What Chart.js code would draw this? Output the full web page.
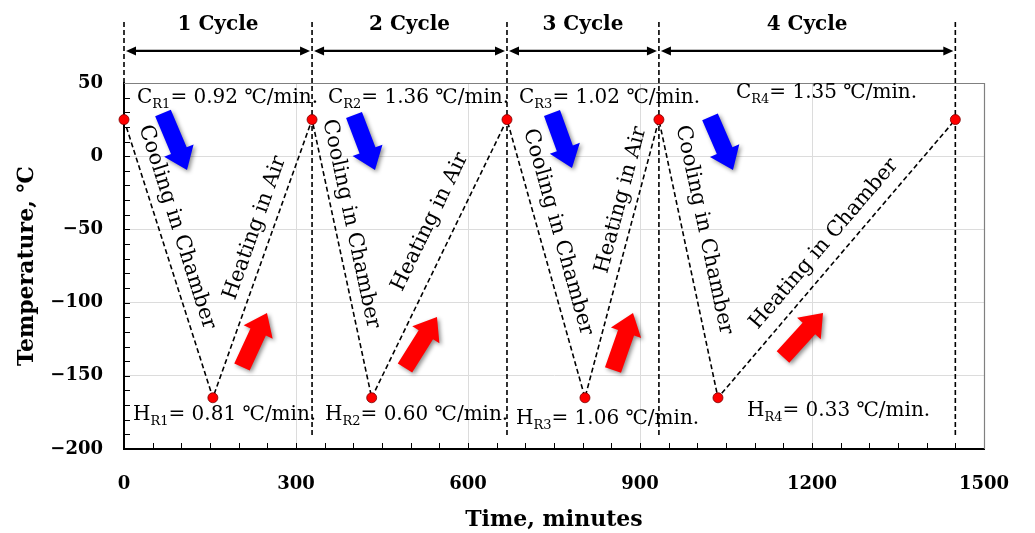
<!DOCTYPE html>
<html>
<head>
<meta charset="utf-8">
<script src="https://cdn.jsdelivr.net/npm/chart.js@4.4.1/dist/chart.umd.min.js"></script>
<style>
html,body{margin:0;padding:0;background:#fff;}
#c{display:block;}
</style>
</head>
<body>
<canvas id="c" width="1035" height="533"></canvas>
<script>
// ---- data ----
const timeMin = [0, 155, 328, 432, 668, 804, 933, 1036, 1450];
const tempC   = [25, -165, 25, -165, 25, -165, 25, -165, 25];
const xTicks  = [0, 300, 600, 900, 1200, 1500];
const yTicks  = [-200, -150, -100, -50, 0, 50];
const cycleBounds = [0, 328, 668, 933, 1450];
const cycleLabels = ['1 Cycle', '2 Cycle', '3 Cycle', '4 Cycle'];
const coolRates = ['0.92', '1.36', '1.02', '1.35'];
const heatRates = ['0.81', '0.60', '1.06', '0.33'];
const coolProcess = ['Cooling in Chamber', 'Cooling in Chamber', 'Cooling in Chamber', 'Cooling in Chamber'];
const heatProcess = ['Heating in Air', 'Heating in Air', 'Heating in Air', 'Heating in Chamber'];

// ---- annotation placement (data units) ----
const coolLabelPos = [[22.7, 41.8], [355.8, 41.8], [689.0, 41.8], [1067.4, 45.2]];
const heatLabelPos = [[15.7, -175.4], [350.6, -175.4], [683.7, -178.1], [1086.6, -172.0]];
const coolTextPos = [[92.4, -48.4], [395.9, -46.3], [757.0, -51.8], [1011.6, -50.4]];
const heatTextPos = [[228.5, -49.0], [533.7, -44.9], [866.9, -29.9], [1220.9, -60.0]];
const blueArrows = [[68.0, 29.5, 109.9, -9.4], [401.2, 28.1, 437.8, -9.4], [746.5, 29.5, 781.4, -8.1], [1022.1, 26.8, 1062.2, -9.4]];
const redArrows = [[205.8, -144.0, 249.4, -107.1], [490.1, -144.7, 545.9, -109.8], [852.9, -146.0, 887.8, -107.1], [1149.4, -137.2, 1219.2, -107.1]];
const boundTop = 91.7, boundBottom = -191.8, cycleLabelY = 89.6, cycleArrowY = 71.9;

const FAM = "'DejaVu Serif', 'Liberation Serif', serif";

function blockArrow(ctx, x1, y1, x2, y2, color) {
  const dx = x2 - x1, dy = y2 - y1;
  const L = Math.hypot(dx, dy);
  const ang = Math.atan2(dy, dx);
  const sw = 8.5, hw = 16, hl = 21;
  ctx.save();
  ctx.translate(x1, y1);
  ctx.rotate(ang);
  ctx.beginPath();
  ctx.moveTo(0, -sw);
  ctx.lineTo(L - hl, -sw);
  ctx.lineTo(L - hl, -hw);
  ctx.lineTo(L, 0);
  ctx.lineTo(L - hl, hw);
  ctx.lineTo(L - hl, sw);
  ctx.lineTo(0, sw);
  ctx.closePath();
  ctx.shadowColor = 'rgba(0,0,0,0.45)';
  ctx.shadowBlur = 4;
  ctx.shadowOffsetX = 2;
  ctx.shadowOffsetY = 2;
  ctx.fillStyle = color;
  ctx.fill();
  ctx.restore();
}

function rateLabel(ctx, x, yc, letter, sub, rest) {
  ctx.save();
  ctx.fillStyle = '#000';
  ctx.textBaseline = 'alphabetic';
  ctx.textAlign = 'left';
  const base = yc + 7.5;
  ctx.font = `20px ${FAM}`;
  ctx.fillText(letter, x, base);
  let cx = x + ctx.measureText(letter).width;
  ctx.font = `13px ${FAM}`;
  ctx.fillText(sub, cx, base + 5);
  cx += ctx.measureText(sub).width;
  ctx.font = `20px ${FAM}`;
  ctx.fillText(rest, cx, base);
  ctx.restore();
}

const decor = {
  id: 'decor',
  beforeDatasetsDraw(chart) {
    const {ctx, chartArea: a, scales: {x, y}} = chart;
    ctx.save();
    // minor inward ticks
    ctx.strokeStyle = '#000';
    ctx.lineWidth = 1;
    ctx.beginPath();
    for (let v = 50; v < 1500; v += 50) {
      const px = Math.round(x.getPixelForValue(v)) + 0.5;
      ctx.moveTo(px, a.bottom);
      ctx.lineTo(px, a.bottom - 6);
    }
    for (let v = -190; v < 50; v += 10) {
      const py = Math.round(y.getPixelForValue(v)) + 0.5;
      ctx.moveTo(a.left, py);
      ctx.lineTo(a.left + 6, py);
    }
    ctx.stroke();
    // top & right border
    ctx.strokeStyle = '#808080';
    ctx.lineWidth = 1.2;
    ctx.beginPath();
    ctx.moveTo(a.left, a.top + 0.5);
    ctx.lineTo(a.right + 0.5, a.top + 0.5);
    ctx.lineTo(a.right + 0.5, a.bottom);
    ctx.stroke();
    // cycle boundary dashed lines
    ctx.strokeStyle = '#000';
    ctx.lineWidth = 1.6;
    ctx.setLineDash([5, 3]);
    cycleBounds.forEach(b => {
      const px = x.getPixelForValue(b);
      ctx.beginPath();
      ctx.moveTo(px, y.getPixelForValue(boundTop));
      ctx.lineTo(px, y.getPixelForValue(boundBottom));
      ctx.stroke();
    });
    ctx.setLineDash([]);
    ctx.restore();
  },
  afterDatasetsDraw(chart) {
    const {ctx, scales: {x, y}} = chart;
    ctx.save();
    // cycle arrows and labels
    const ay = y.getPixelForValue(cycleArrowY);
    const ly = y.getPixelForValue(cycleLabelY);
    ctx.fillStyle = '#000';
    ctx.strokeStyle = '#000';
    for (let i = 0; i < cycleLabels.length; i++) {
      const x1 = x.getPixelForValue(cycleBounds[i]) + 2;
      const x2 = x.getPixelForValue(cycleBounds[i + 1]) - 2;
      ctx.lineWidth = 2.2;
      ctx.beginPath();
      ctx.moveTo(x1 + 6, ay);
      ctx.lineTo(x2 - 6, ay);
      ctx.stroke();
      ctx.beginPath();
      ctx.moveTo(x1, ay); ctx.lineTo(x1 + 10, ay - 4.5); ctx.lineTo(x1 + 10, ay + 4.5); ctx.closePath();
      ctx.fill();
      ctx.beginPath();
      ctx.moveTo(x2, ay); ctx.lineTo(x2 - 10, ay - 4.5); ctx.lineTo(x2 - 10, ay + 4.5); ctx.closePath();
      ctx.fill();
      ctx.font = `bold 20px ${FAM}`;
      ctx.textAlign = 'center';
      ctx.textBaseline = 'middle';
      ctx.fillText(cycleLabels[i], (x1 + x2) / 2, ly);
    }
    // block arrows
    blueArrows.forEach(r => blockArrow(ctx, x.getPixelForValue(r[0]), y.getPixelForValue(r[1]), x.getPixelForValue(r[2]), y.getPixelForValue(r[3]), '#0000ff'));
    redArrows.forEach(r => blockArrow(ctx, x.getPixelForValue(r[0]), y.getPixelForValue(r[1]), x.getPixelForValue(r[2]), y.getPixelForValue(r[3]), '#ff0000'));
    // rate labels
    for (let i = 0; i < 4; i++) {
      rateLabel(ctx, x.getPixelForValue(coolLabelPos[i][0]), y.getPixelForValue(coolLabelPos[i][1]), 'C', 'R' + (i + 1), '= ' + coolRates[i] + ' \u2103/min.');
      rateLabel(ctx, x.getPixelForValue(heatLabelPos[i][0]), y.getPixelForValue(heatLabelPos[i][1]), 'H', 'R' + (i + 1), '= ' + heatRates[i] + ' \u2103/min.');
    }
    // rotated process labels along segments
    const seg = (i) => {
      const p1 = [x.getPixelForValue(timeMin[i]), y.getPixelForValue(tempC[i])];
      const p2 = [x.getPixelForValue(timeMin[i + 1]), y.getPixelForValue(tempC[i + 1])];
      return [p1, p2];
    };
    ctx.font = `21px ${FAM}`;
    ctx.textAlign = 'center';
    ctx.textBaseline = 'middle';
    ctx.fillStyle = '#000';
    for (let c = 0; c < 4; c++) {
      let [p1, p2] = seg(2 * c);
      let ang = Math.atan2(p2[1] - p1[1], p2[0] - p1[0]);
      ctx.save();
      ctx.translate(x.getPixelForValue(coolTextPos[c][0]), y.getPixelForValue(coolTextPos[c][1]));
      ctx.rotate(ang);
      ctx.fillText(coolProcess[c], 0, 0);
      ctx.restore();
      [p1, p2] = seg(2 * c + 1);
      ang = Math.atan2(p2[1] - p1[1], p2[0] - p1[0]);
      ctx.save();
      ctx.translate(x.getPixelForValue(heatTextPos[c][0]), y.getPixelForValue(heatTextPos[c][1]));
      ctx.rotate(ang);
      ctx.fillText(heatProcess[c], 0, 0);
      ctx.restore();
    }
    ctx.restore();
  }
};

const tickFont = {family: FAM, size: 18, weight: 'bold'};
const titleFont = {family: FAM, size: 22, weight: 'bold'};

new Chart(document.getElementById('c'), {
  type: 'line',
  data: {
    datasets: [{
      data: timeMin.map((t, i) => ({x: t, y: tempC[i]})),
      borderColor: '#000',
      borderWidth: 1.6,
      borderDash: [5, 3],
      pointRadius: 5,
      pointBackgroundColor: '#ff0000',
      pointBorderColor: '#7a0000',
      pointBorderWidth: 0.8,
      tension: 0,
      clip: false
    }]
  },
  options: {
    responsive: false,
    animation: false,
    devicePixelRatio: 1,
    layout: {padding: {top: 83, right: 51, left: 0, bottom: 0}},
    plugins: {legend: {display: false}, tooltip: {enabled: false}},
    scales: {
      x: {
        type: 'linear', min: 0, max: 1500,
        afterBuildTicks: s => { s.ticks = xTicks.map(v => ({value: v})); },
        afterFit: s => { s.height = 84; },
        grid: {color: '#dcdcdc', lineWidth: 1, drawTicks: false},
        border: {color: '#000', width: 2},
        ticks: {padding: 25, color: '#000', font: tickFont, maxRotation: 0, callback: v => String(v)},
        title: {display: true, text: 'Time, minutes', color: '#000', font: titleFont, padding: {top: 0, bottom: 0}}
      },
      y: {
        type: 'linear', min: -200, max: 50,
        afterBuildTicks: s => { s.ticks = yTicks.map(v => ({value: v})); },
        afterFit: s => { s.width = 124; },
        grid: {color: '#dcdcdc', lineWidth: 1, drawTicks: false},
        border: {color: '#000', width: 2},
        ticks: {padding: 21, color: '#000', font: tickFont, callback: v => v < 0 ? '\u2212' + Math.abs(v) : String(v)},
        title: {display: true, text: 'Temperature, \u2103', color: '#000', font: titleFont, padding: {top: 14, bottom: 0}}
      }
    }
  },
  plugins: [decor]
});
</script>
</body>
</html>
